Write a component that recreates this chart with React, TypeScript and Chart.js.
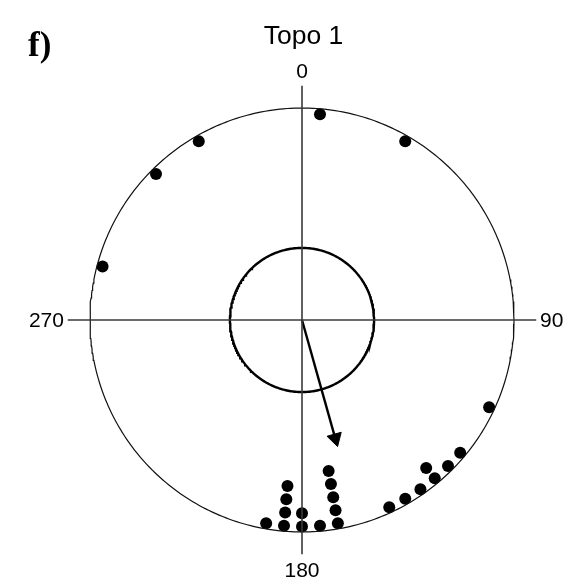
import { useEffect, useRef } from "react";
import { Chart, registerables } from "chart.js";

Chart.register(...registerables);

// ---- data ----
const chartTitle = "Topo 1";
const panelLabel = "f)";
const directionLabels = ["0", "90", "180", "270"];
const directionAngles = [0, 90, 180, 270];
// angular bins (degrees, clockwise from north) and number of stacked observations
const binAngles = [5, 30, 115, 130, 135, 140, 145, 150, 155, 170, 175, 180, 185, 190, 285, 315, 330];
const binCounts = [1, 1, 1, 1, 1, 2, 1, 1, 1, 5, 1, 2, 4, 1, 1, 1, 1];
// mean vector
const meanDirection = 164.3;
const meanResultantLength = 0.62;
// inner (critical) circle radius, relative to unit circle
const innerCircleRadius = 0.34;

// ---- layout ----
const W = 574;
const H = 586;
const CX = 302;
const CY = 320;
const PX_PER_UNIT = 212;
const DOT_BASE_R = 0.974;
const DOT_STEP = 0.0627;

const rad = (d: number) => (d * Math.PI) / 180;
const polar = (angleDeg: number, r: number) => ({
  x: r * Math.sin(rad(angleDeg)),
  y: r * Math.cos(rad(angleDeg)),
});
const circlePts = (r: number) => {
  const pts: { x: number; y: number }[] = [];
  for (let a = 0; a <= 360; a += 1) pts.push(polar(a, r));
  return pts;
};

export default function App() {
  const ref = useRef<HTMLCanvasElement | null>(null);

  useEffect(() => {
    if (!ref.current) return;

    const dots: { x: number; y: number }[] = [];
    binAngles.forEach((a, i) => {
      for (let k = 0; k < binCounts[i]; k++) dots.push(polar(a, DOT_BASE_R - k * DOT_STEP));
    });

    const headR = 8.5;
    const headCenter = polar(meanDirection, meanResultantLength - headR / PX_PER_UNIT);
    const crossLen = 1.105;

    const textPlugin = {
      id: "circLabels",
      afterDatasetsDraw(chart: any) {
        const ctx = chart.ctx as CanvasRenderingContext2D;
        const xs = chart.scales.x;
        const ys = chart.scales.y;
        ctx.save();
        ctx.fillStyle = "#000";
        ctx.font = '21px "Liberation Sans", Arial, sans-serif';
        directionAngles.forEach((a, i) => {
          const t = directionLabels[i];
          if (a === 0) {
            const p = polar(a, 1.14);
            ctx.textAlign = "center";
            ctx.textBaseline = "alphabetic";
            ctx.fillText(t, xs.getPixelForValue(p.x), ys.getPixelForValue(p.y));
          } else if (a === 180) {
            const p = polar(a, 1.211);
            ctx.textAlign = "center";
            ctx.textBaseline = "alphabetic";
            ctx.fillText(t, xs.getPixelForValue(p.x), ys.getPixelForValue(p.y));
          } else if (a === 90) {
            const p = polar(a, 1.123);
            ctx.textAlign = "left";
            ctx.textBaseline = "middle";
            ctx.fillText(t, xs.getPixelForValue(p.x), ys.getPixelForValue(p.y) + 1);
          } else {
            const p = polar(a, 1.123);
            ctx.textAlign = "right";
            ctx.textBaseline = "middle";
            ctx.fillText(t, xs.getPixelForValue(p.x), ys.getPixelForValue(p.y) + 1);
          }
        });
        ctx.font = '26.5px "Liberation Sans", Arial, sans-serif';
        ctx.textAlign = "center";
        ctx.textBaseline = "alphabetic";
        ctx.fillText(chartTitle, xs.getPixelForValue(0.007), 44);
        ctx.font = 'bold 35px "Liberation Serif", "Times New Roman", serif';
        ctx.textAlign = "left";
        ctx.fillText(panelLabel, 28, 56);
        ctx.restore();
      },
    };

    const chart = new Chart(ref.current, {
      type: "scatter",
      data: {
        datasets: [
          {
            type: "line",
            data: [{ x: 0, y: crossLen }, { x: 0, y: -crossLen }],
            borderColor: "#3a3a3a",
            borderWidth: 1.6,
            pointRadius: 0,
            showLine: true,
          } as any,
          {
            type: "line",
            data: [{ x: -crossLen, y: 0 }, { x: crossLen, y: 0 }],
            borderColor: "#3a3a3a",
            borderWidth: 1.6,
            pointRadius: 0,
            showLine: true,
          } as any,
          {
            type: "line",
            data: circlePts(1),
            borderColor: "#111",
            borderWidth: 1.2,
            pointRadius: 0,
            tension: 0,
          } as any,
          {
            type: "line",
            data: circlePts(innerCircleRadius),
            borderColor: "#000",
            borderWidth: 2.4,
            pointRadius: 0,
            tension: 0,
          } as any,
          {
            type: "line",
            data: [{ x: 0, y: 0 }, headCenter],
            borderColor: "#000",
            borderWidth: 2.4,
            pointRadius: 0,
          } as any,
          {
            type: "scatter",
            data: [headCenter],
            pointStyle: "triangle",
            pointRotation: meanDirection,
            pointRadius: headR,
            backgroundColor: "#000",
            borderColor: "#000",
            borderWidth: 1,
          } as any,
          {
            type: "scatter",
            data: dots,
            pointRadius: 6,
            backgroundColor: "#000",
            borderWidth: 0,
          } as any,
        ],
      },
      options: {
        animation: false,
        responsive: false,
        maintainAspectRatio: false,
        layout: { padding: 0, autoPadding: false },
        plugins: { legend: { display: false }, tooltip: { enabled: false }, title: { display: false } },
        events: [],
        scales: {
          x: {
            type: "linear",
            display: false,
            min: -CX / PX_PER_UNIT,
            max: (W - CX) / PX_PER_UNIT,
          },
          y: {
            type: "linear",
            display: false,
            min: -(H - CY) / PX_PER_UNIT,
            max: CY / PX_PER_UNIT,
          },
        },
      },
      plugins: [textPlugin],
    });

    return () => chart.destroy();
  }, []);

  return (
    <div style={{ position: "absolute", left: 0, top: 0, width: W, height: H, background: "#fff" }}>
      <canvas ref={ref} width={W} height={H} style={{ display: "block" }} />
    </div>
  );
}
